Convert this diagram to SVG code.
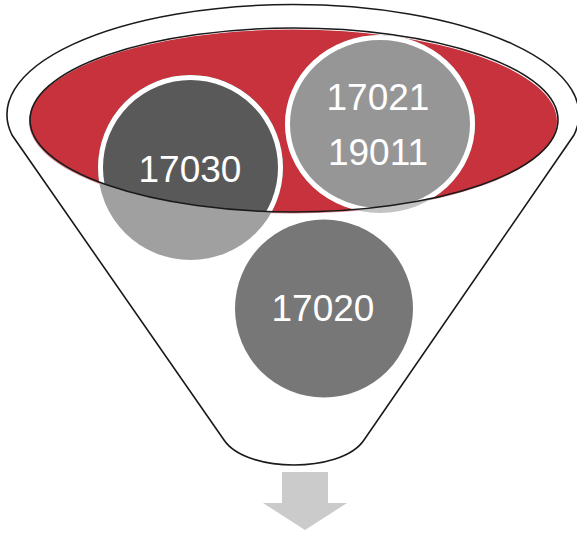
<svg xmlns="http://www.w3.org/2000/svg" width="577" height="534" viewBox="0 0 577 534">
<style>
.line{fill:none;stroke:#1a1a1a;stroke-width:1.6}
.lbl{font-family:"Liberation Sans",Arial,sans-serif;font-size:37px;fill:#ffffff;text-anchor:middle}
.ring{fill:none;stroke:#ffffff;stroke-width:5}
</style>
<defs>
<path id="funnelOutline" d="M 12,135 A 286 110 0 1 1 574,135 L 364,440 C 352,458 320,465 294,465 C 268,465 236,458 224,440 Z"/>
<clipPath id="rimClip"><ellipse cx="294" cy="120" rx="264" ry="92"/></clipPath>
</defs>
<g id="funnel-back">
<use href="#funnelOutline" fill="#ffffff" stroke="none"/>
<ellipse cx="293" cy="121.5" rx="264" ry="92" fill="#c8323d"/>
</g>
<g id="node-17030">
<circle cx="190.5" cy="167.5" r="92.5" fill="#595959"/>
<circle class="ring" cx="190.5" cy="167.5" r="90" clip-path="url(#rimClip)"/>
<text class="lbl" x="190" y="182">17030</text>
</g>
<g id="node-17021-19011">
<ellipse cx="380" cy="124" rx="95" ry="89" fill="#969696"/>
<ellipse class="ring" cx="380" cy="124" rx="92.5" ry="86.5" clip-path="url(#rimClip)"/>
<text class="lbl" x="378" y="110">17021</text>
<text class="lbl" x="378" y="165">19011</text>
</g>
<g id="funnel-front">
<path fill="#ffffff" fill-opacity="0.43" fill-rule="evenodd" d="M 12,135 A 286 110 0 1 1 574,135 L 364,440 C 352,458 320,465 294,465 C 268,465 236,458 224,440 Z M 30,120 A 264 92 0 1 0 558,120 A 264 92 0 1 0 30,120 Z"/>
<use href="#funnelOutline" class="line"/>
<ellipse class="line" cx="294" cy="120" rx="264" ry="92"/>
</g>
<g id="node-17020">
<circle cx="324" cy="308.5" r="89" fill="#777777"/>
<text class="lbl" x="323" y="321">17020</text>
</g>
<g id="connectors">
<path d="M 282,472 L 328,472 L 328,503 L 347,503 L 305,530 L 263,503 L 282,503 Z" fill="#cbcbcb"/>
</g>
</svg>
